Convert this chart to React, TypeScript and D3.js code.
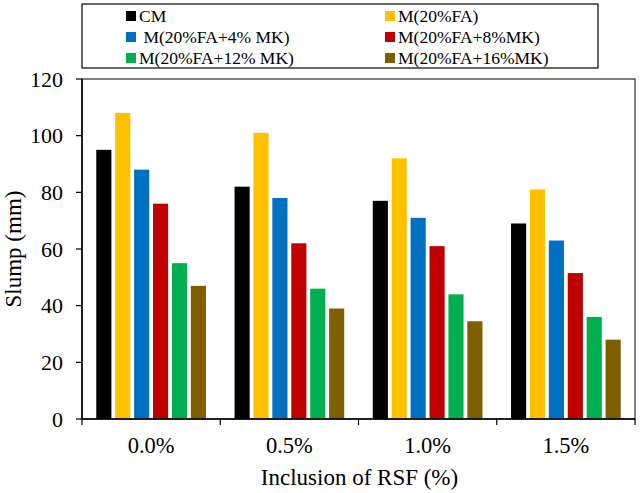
import React from "react";
import * as d3 from "d3";

const categories = ["0.0%", "0.5%", "1.0%", "1.5%"];
const seriesNames = [
  "CM",
  "M(20%FA)",
  " M(20%FA+4% MK)",
  "M(20%FA+8%MK)",
  "M(20%FA+12% MK)",
  "M(20%FA+16%MK)",
];
const seriesColors = ["#000000", "#FFC000", "#0070C0", "#C00000", "#00B050", "#7F6000"];
const CM = [95, 82, 77, 69];
const FA20 = [108, 101, 92, 81];
const MK4 = [88, 78, 71, 63];
const MK8 = [76, 62, 61, 51.5];
const MK12 = [55, 46, 44, 36];
const MK16 = [47, 39, 34.5, 28];
const seriesValues = [CM, FA20, MK4, MK8, MK12, MK16];
const yTicks = [0, 20, 40, 60, 80, 100, 120];

const W = 640;
const H = 493;
const left = 82;
const right = 635;
const top = 79;
const bottom = 419;
const font = "Liberation Serif, Times New Roman, serif";

export default function App() {
  const x0 = d3.scaleBand<string>().domain(categories).range([left, right]).padding(0);
  const x1 = d3
    .scaleBand<number>()
    .domain(d3.range(seriesNames.length))
    .range([0, x0.bandwidth()])
    .paddingInner(0.2)
    .paddingOuter(0.755);
  const y = d3.scaleLinear().domain([0, 120]).range([bottom, top]);
  const boundaries = [...categories.map((c) => x0(c) as number), right];

  const legendRows = [16, 37, 58];
  const legendCols = [126, 385];
  const ts = { fontFamily: font };

  return (
    <svg
      width={W}
      height={H}
      style={{ position: "absolute", left: 0, top: 0, background: "#fff", fontFamily: font }}
    >
      <rect x={0} y={0} width={W} height={H} fill="#fff" />
      {categories.map((c, ci) =>
        seriesValues.map((vals, si) => (
          <rect
            key={c + si}
            x={(x0(c) as number) + (x1(si) as number)}
            y={y(vals[ci])}
            width={x1.bandwidth()}
            height={bottom - y(vals[ci])}
            fill={seriesColors[si]}
          />
        ))
      )}
      <rect x={left} y={top} width={right - left} height={bottom - top} fill="none" stroke="#000" strokeWidth={1} />
      <line x1={left} x2={left} y1={top} y2={bottom} stroke="#000" strokeWidth={1.5} />
      <line x1={left} x2={right} y1={bottom} y2={bottom} stroke="#000" strokeWidth={1.5} />
      {yTicks.map((t) => (
        <g key={t}>
          <line x1={left - 6} x2={left} y1={y(t)} y2={y(t)} stroke="#000" strokeWidth={1.2} />
          <text x={left - 19} y={y(t)} dy="0.35em" textAnchor="end" fontSize={22} fill="#000" style={ts}>
            {t}
          </text>
        </g>
      ))}
      {boundaries.map((b, i) => (
        <line key={i} x1={b} x2={b} y1={bottom} y2={bottom + 6} stroke="#000" strokeWidth={1.2} />
      ))}
      {categories.map((c) => (
        <text
          key={c}
          x={(x0(c) as number) + x0.bandwidth() / 2}
          y={453}
          textAnchor="middle"
          fontSize={22.5}
          fill="#000"
          style={ts}
        >
          {c}
        </text>
      ))}
      <text x={(left + right) / 2 + 1} y={485} textAnchor="middle" fontSize={23} fill="#000" style={ts}>
        Inclusion of RSF (%)
      </text>
      <text
        transform={`translate(21, ${(top + bottom) / 2}) rotate(-90)`}
        textAnchor="middle"
        fontSize={23}
        fill="#000"
        style={ts}
      >
        Slump (mm)
      </text>
      <rect x={82} y={4} width={516} height={64} fill="#fff" stroke="#000" strokeWidth={1.2} />
      {seriesNames.map((n, i) => {
        const col = i % 2;
        const row = Math.floor(i / 2);
        const lx = legendCols[col];
        const ly = legendRows[row];
        return (
          <g key={n}>
            <rect x={lx} y={ly - 5} width={10} height={10} fill={seriesColors[i]} />
            <text
              x={lx + 13}
              y={ly}
              dy="0.35em"
              fontSize={17.5}
              fill="#000"
              style={{ ...ts, whiteSpace: "pre" }}
            >
              {n}
            </text>
          </g>
        );
      })}
    </svg>
  );
}
